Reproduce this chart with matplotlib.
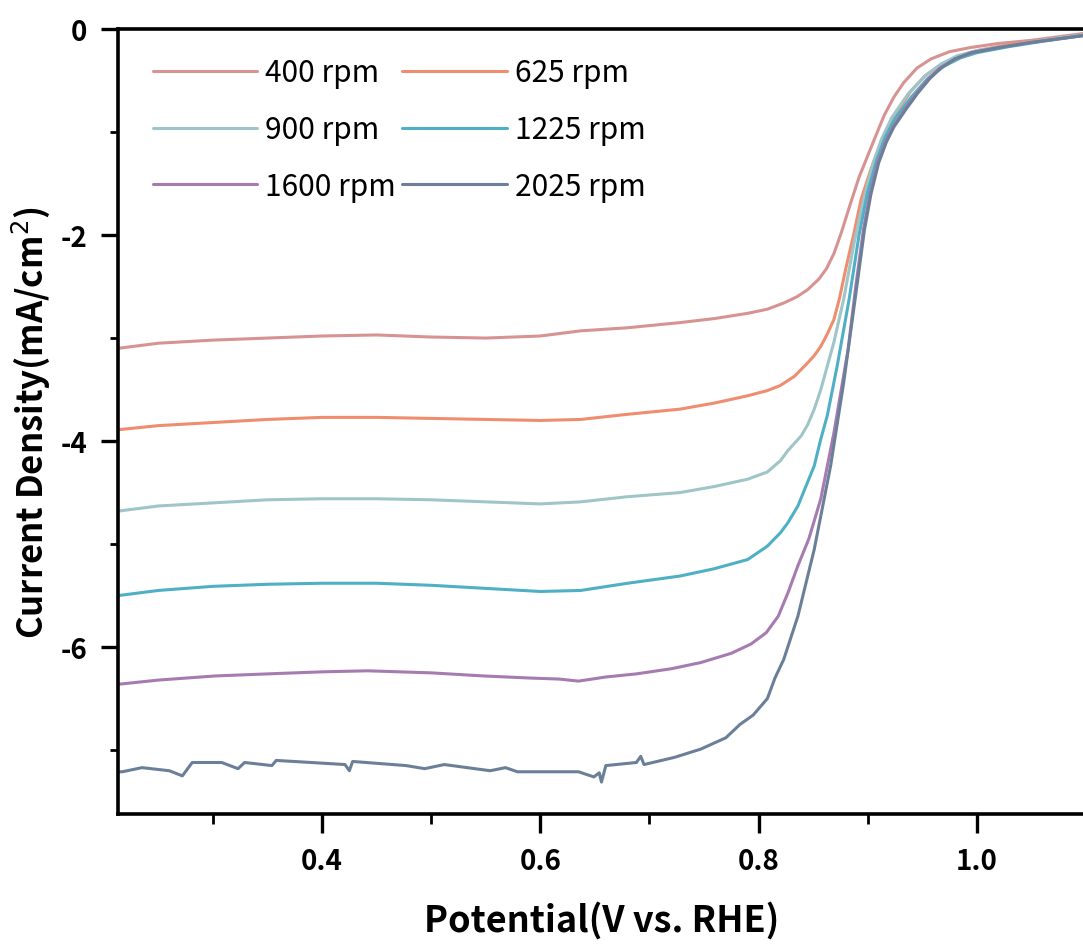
import matplotlib
matplotlib.use("Agg")
import matplotlib.pyplot as plt
from matplotlib.ticker import MultipleLocator

plt.rcParams["font.family"] = ["Noto Sans CJK SC", "DejaVu Sans"]

# ---- data (potential V vs RHE, current density mA/cm2)
labels = ["400 rpm", "625 rpm", "900 rpm", "1225 rpm", "1600 rpm", "2025 rpm"]
colors = ["#d69392", "#ef8d6e", "#9fc5c9", "#4eafc5", "#a57bb1", "#6c7f98"]

x_400 = [0.213, 0.25, 0.30, 0.35, 0.40, 0.45, 0.50, 0.55, 0.60, 0.637, 0.68, 0.728,
         0.76, 0.79, 0.808, 0.823, 0.835, 0.845, 0.855, 0.862, 0.869, 0.876, 0.884,
         0.892, 0.900, 0.908, 0.915, 0.924, 0.933, 0.945, 0.958, 0.975, 0.994, 1.02,
         1.05, 1.10]
y_400 = [-3.10, -3.05, -3.02, -3.00, -2.98, -2.97, -2.99, -3.00, -2.98, -2.93, -2.90,
         -2.85, -2.81, -2.76, -2.72, -2.66, -2.60, -2.53, -2.43, -2.33, -2.18, -1.97,
         -1.70, -1.44, -1.23, -1.02, -0.84, -0.66, -0.52, -0.38, -0.29, -0.22, -0.18,
         -0.14, -0.11, -0.04]

x_625 = [0.213, 0.25, 0.30, 0.35, 0.40, 0.45, 0.50, 0.55, 0.60, 0.637, 0.68, 0.728,
         0.76, 0.79, 0.808, 0.82, 0.833, 0.845, 0.851, 0.857, 0.863, 0.869, 0.874,
         0.880, 0.887, 0.894, 0.903, 0.912, 0.921, 0.939, 0.953, 0.967, 0.982, 1.00,
         1.03, 1.06, 1.10]
y_625 = [-3.89, -3.85, -3.82, -3.79, -3.77, -3.77, -3.78, -3.79, -3.80, -3.79, -3.74,
         -3.69, -3.63, -3.56, -3.51, -3.46, -3.37, -3.24, -3.17, -3.08, -2.96, -2.82,
         -2.62, -2.32, -2.00, -1.65, -1.36, -1.10, -0.91, -0.61, -0.45, -0.35, -0.27,
         -0.21, -0.15, -0.11, -0.05]

x_900 = [0.213, 0.25, 0.30, 0.35, 0.40, 0.45, 0.50, 0.55, 0.60, 0.637, 0.68, 0.728,
         0.76, 0.79, 0.808, 0.82, 0.827, 0.839, 0.845, 0.851, 0.857, 0.863, 0.869,
         0.878, 0.888, 0.897, 0.905, 0.913, 0.922, 0.937, 0.952, 0.967, 0.982, 1.00,
         1.03, 1.06, 1.10]
y_900 = [-4.68, -4.63, -4.60, -4.57, -4.56, -4.56, -4.57, -4.59, -4.61, -4.59, -4.54,
         -4.50, -4.44, -4.37, -4.30, -4.19, -4.09, -3.95, -3.84, -3.69, -3.50, -3.27,
         -3.04, -2.62, -2.05, -1.62, -1.30, -1.06, -0.86, -0.63, -0.46, -0.34, -0.26,
         -0.21, -0.16, -0.11, -0.05]

x_1225 = [0.213, 0.25, 0.30, 0.35, 0.40, 0.45, 0.50, 0.55, 0.60, 0.637, 0.68, 0.728,
          0.759, 0.79, 0.808, 0.82, 0.827, 0.836, 0.841, 0.851, 0.857, 0.863, 0.872,
          0.883, 0.892, 0.900, 0.908, 0.916, 0.925, 0.94, 0.955, 0.97, 0.985, 1.00,
          1.03, 1.06, 1.10]
y_1225 = [-5.50, -5.45, -5.41, -5.39, -5.38, -5.38, -5.40, -5.43, -5.46, -5.45, -5.38,
          -5.31, -5.24, -5.15, -5.02, -4.89, -4.79, -4.63, -4.50, -4.24, -3.98, -3.75,
          -3.27, -2.62, -2.00, -1.58, -1.28, -1.05, -0.87, -0.66, -0.48, -0.36, -0.28,
          -0.23, -0.17, -0.12, -0.06]

x_1600 = [0.214, 0.25, 0.302, 0.35, 0.40, 0.442, 0.50, 0.548, 0.59, 0.617, 0.635,
          0.66, 0.688, 0.72, 0.747, 0.775, 0.793, 0.807, 0.818, 0.827, 0.836, 0.846,
          0.857, 0.869, 0.882, 0.889, 0.896, 0.902, 0.909, 0.916, 0.923, 0.934, 0.945,
          0.956, 0.966, 0.98, 0.995, 1.02, 1.05, 1.10]
y_1600 = [-6.36, -6.32, -6.28, -6.26, -6.24, -6.23, -6.25, -6.28, -6.30, -6.31, -6.33,
          -6.29, -6.26, -6.21, -6.15, -6.06, -5.97, -5.86, -5.70, -5.47, -5.21, -4.95,
          -4.56, -3.92, -3.11, -2.50, -1.95, -1.60, -1.30, -1.10, -0.95, -0.78, -0.62,
          -0.48, -0.38, -0.29, -0.23, -0.18, -0.13, -0.06]

x_2025 = [0.213, 0.217, 0.235, 0.26, 0.272, 0.281, 0.308, 0.323, 0.329, 0.354, 0.358,
          0.39, 0.421, 0.425, 0.428, 0.477, 0.494, 0.512, 0.554, 0.568, 0.579, 0.61,
          0.635, 0.649, 0.654, 0.656, 0.660, 0.688, 0.692, 0.695, 0.723, 0.747, 0.77,
          0.783, 0.795, 0.808, 0.815, 0.823, 0.836, 0.851, 0.866, 0.878, 0.890, 0.897,
          0.903, 0.910, 0.917, 0.924, 0.935, 0.946, 0.957, 0.967, 0.98, 0.995, 1.02,
          1.05, 1.10]
y_2025 = [-7.21, -7.21, -7.17, -7.20, -7.25, -7.12, -7.12, -7.18, -7.12, -7.15, -7.10,
          -7.12, -7.14, -7.20, -7.11, -7.15, -7.18, -7.14, -7.20, -7.17, -7.21, -7.21,
          -7.21, -7.26, -7.22, -7.31, -7.15, -7.12, -7.06, -7.14, -7.07, -6.99, -6.88,
          -6.75, -6.66, -6.50, -6.30, -6.12, -5.70, -5.05, -4.24, -3.43, -2.50, -1.95,
          -1.60, -1.30, -1.10, -0.95, -0.78, -0.62, -0.48, -0.38, -0.29, -0.23, -0.18,
          -0.13, -0.06]

xs = [x_400, x_625, x_900, x_1225, x_1600, x_2025]
ys = [y_400, y_625, y_900, y_1225, y_1600, y_2025]

fig = plt.figure(figsize=(10.83, 9.45), dpi=100)
ax = fig.add_axes([118 / 1083, 1 - 815 / 945, 968 / 1083, 785 / 945])

lines = []
for x, y, c, lab in zip(xs, ys, colors, labels):
    ln, = ax.plot(x, y, color=c, lw=2.2, label=lab, solid_capstyle="round")
    lines.append(ln)

ax.set_xlim(0.213, 1.1)
ax.set_ylim(-7.62, 0)
ax.xaxis.set_minor_locator(MultipleLocator(0.1))
ax.yaxis.set_minor_locator(MultipleLocator(1))
ax.set_xticks([0.4, 0.6, 0.8, 1.0])
ax.set_xticklabels(["0.4", "0.6", "0.8", "1.0"])
ax.set_yticks([0, -2, -4, -6])
ax.set_yticklabels(["0", "-2", "-4", "-6"])

for s in ax.spines.values():
    s.set_linewidth(2.6)
ax.tick_params(which="major", direction="out", width=2.4, labelsize=20)
ax.tick_params(which="minor", direction="out", width=2.0)
ax.tick_params(axis="x", which="major", length=14, pad=10)
ax.tick_params(axis="x", which="minor", length=7)
ax.tick_params(axis="y", which="major", length=12, pad=10)
ax.tick_params(axis="y", which="minor", length=6)
for t in ax.get_xticklabels() + ax.get_yticklabels():
    t.set_fontweight("bold")

ax.set_xlabel("Potential(V vs. RHE)", fontsize=26, fontweight="bold", labelpad=18)
ax.set_ylabel("Current Density(mA/cm$^2$)", fontsize=25, fontweight="bold",
              labelpad=6)

# row-wise legend order: 400/625, 900/1225, 1600/2025
order = [0, 2, 4, 1, 3, 5]
ax.legend([lines[i] for i in order], [labels[i] for i in order], ncol=2,
          loc="upper left", bbox_to_anchor=(0.0205, 0.983), frameon=False,
          fontsize=21.5, handlelength=3.5, handletextpad=0.27, columnspacing=0.2,
          labelspacing=0.86, borderpad=0)

fig.savefig("out.png", dpi=100)
